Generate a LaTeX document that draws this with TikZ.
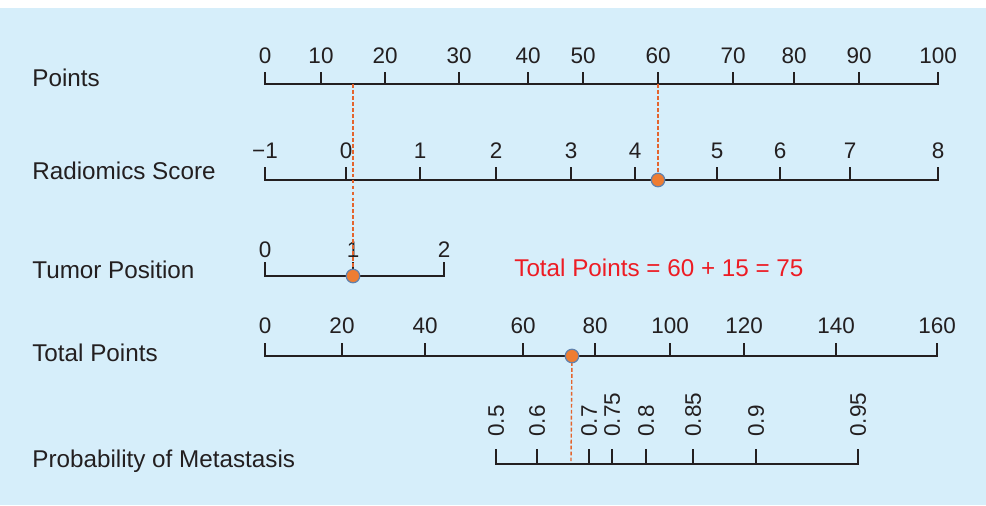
\documentclass[tikz,border=0pt]{standalone}
\usepackage{fontspec}
\setmainfont{Liberation Sans}
\usepackage{tikz}
\usetikzlibrary{positioning}
\definecolor{bgblue}{RGB}{214,238,250}
\definecolor{axisblack}{RGB}{35,31,32}
\definecolor{dotorange}{RGB}{238,125,50}
\definecolor{dotrim}{RGB}{98,130,172}
\definecolor{guideorange}{RGB}{228,100,45}
\definecolor{sumred}{RGB}{237,28,36}
\begin{document}
\begin{tikzpicture}[x=0.02cm, y=-0.02cm,
  axis/.style={line width=1.1pt, color=axisblack, line cap=rect},
  tick label/.style={anchor=base, inner sep=0pt, text=axisblack, font=\fontsize{12.8}{14}\selectfont},
  prob label/.style={anchor=west, rotate=90, inner sep=0pt, text=axisblack, font=\fontsize{12.8}{14}\selectfont},
  row label/.style={anchor=base west, inner sep=0pt, text=axisblack, font=\fontsize{13.8}{16}\selectfont},
  main node/.style={circle, draw=dotrim, fill=dotorange, line width=0.7pt, minimum size=0.27cm, inner sep=0pt},
  guide/.style={color=guideorange, line width=0.8pt, dash pattern=on 2.2pt off 1.2pt}]
\fill[white] (0,0) rectangle (986,505);
\fill[bgblue] (0,8) rectangle (986,505);
\useasboundingbox (0,0) rectangle (986,505);
\node[row label] (l1) at (32,86) {Points};
\node[row label] (l2) at (32,179) {Radiomics Score};
\node[row label] (l3) at (32,278) {Tumor Position};
\node[row label] (l4) at (32,361) {Total Points};
\node[row label] (l5) at (32,467) {Probability of Metastasis};
\node[anchor=base west, inner sep=0pt, text=sumred, font=\fontsize{13.8}{16}\selectfont] (sum) at (514,276) {Total Points = 60 + 15 = 75};
% points
\coordinate (a1) at (265,84);
\coordinate (b1) at (938,84);
\draw[axis] (a1) -- (b1);
\foreach \x/\t [count=\i] in {265/0,321/10,385/20,459/30,528/40,583/50,658/60,733/70,794/80,859/90,938/100}
  {\draw[axis] (\x,84) -- (\x,73);
   \node[tick label] (pt\i) at (\x,63) {\t};}
% radiomics score
\coordinate (a2) at (265,180);
\coordinate (b2) at (938,180);
\draw[axis] (a2) -- (b2);
\foreach \x/\t [count=\i] in {265/−1,346/0,420/1,496/2,571/3,635/4,717/5,780/6,850/7,938/8}
  {\draw[axis] (\x,180) -- (\x,168);
   \node[tick label] (rs\i) at (\x,158) {\t};}
% tumor position
\coordinate (a3) at (265,276);
\coordinate (b3) at (444,276);
\draw[axis] (a3) -- (b3);
\foreach \x/\t [count=\i] in {265/0,353/1,444/2}
  {\draw[axis] (\x,276) -- (\x,263);
   \node[tick label] (tp\i) at (\x,257) {\t};}
% total points
\coordinate (a4) at (265,356);
\coordinate (b4) at (937,356);
\draw[axis] (a4) -- (b4);
\foreach \x/\t [count=\i] in {265/0,342/20,425/40,523/60,595/80,670/100,744/120,836/140,937/160}
  {\draw[axis] (\x,356) -- (\x,344);
   \node[tick label] (tt\i) at (\x,333) {\t};}
% probability
\coordinate (a5) at (496,464);
\coordinate (b5) at (858,464);
\draw[axis] (a5) -- (b5);
\foreach \x/\t [count=\i] in {496/0.5,537/0.6,589/0.7,612/0.75,646/0.8,693/0.85,756/0.9,858/0.95}
  {\draw[axis] (\x,464) -- (\x,450);
   \node[prob label] (pm\i) at (\x,437) {\t};}
\coordinate (c1) at (658,84);
\coordinate (c2) at (353,84);
\coordinate (c3) at (571,461);
\draw[guide] (c1) -- (658,180);
\draw[guide] (c2) -- (353,276);
\draw[guide] (572,356) -- (c3);
\node[main node] (v1) at (658,180) {};
\node[main node] (v2) at (353,276) {};
\node[main node] (v3) at (572,356) {};
\end{tikzpicture}
\end{document}
